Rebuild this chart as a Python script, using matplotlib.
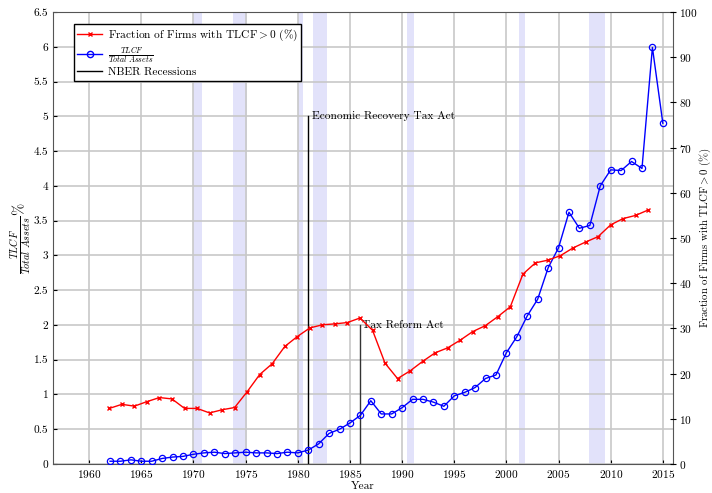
import numpy as np
import matplotlib
matplotlib.use("Agg")
import matplotlib.pyplot as plt

plt.rcParams['font.family'] = ['cmr10', 'DejaVu Serif']
plt.rcParams['mathtext.fontset'] = 'cm'
plt.rcParams['axes.formatter.use_mathtext'] = True
plt.rcParams['font.size'] = 8.2

# TLCF / total assets (%), annual
years = np.arange(1962, 2016)
tlcf = [0.04, 0.04, 0.06, 0.04, 0.04, 0.08, 0.10, 0.11, 0.14, 0.16,
        0.17, 0.15, 0.16, 0.17, 0.16, 0.16, 0.15, 0.17, 0.16, 0.20,
        0.29, 0.44, 0.50, 0.59, 0.70, 0.91, 0.72, 0.72, 0.81, 0.93,
        0.93, 0.89, 0.83, 0.98, 1.03, 1.10, 1.23, 1.28, 1.60, 1.83,
        2.13, 2.37, 2.82, 3.11, 3.62, 3.39, 3.43, 4.00, 4.23, 4.22,
        4.35, 4.25, 5.99, 4.90]

# fraction of firms with TLCF>0 (%), plotted on its own x axis
frac_years = np.arange(1962, 2006)
frac = [12.3, 13.2, 12.8, 13.8, 14.7, 14.4, 12.3, 12.3, 11.3, 12.0,
        12.5, 16.0, 19.8, 22.2, 26.0, 28.2, 30.1, 30.8, 31.0, 31.3,
        32.3, 29.6, 22.3, 18.9, 20.6, 22.7, 24.6, 25.7, 27.4, 29.3,
        30.6, 32.6, 34.8, 42.0, 44.5, 45.1, 46.1, 47.8, 49.1, 50.3,
        52.9, 54.3, 55.0, 56.2]

rec_start = [1969.92, 1973.83, 1980.0, 1981.5, 1990.5, 2001.17, 2007.92]
rec_end = [1970.83, 1975.17, 1980.5, 1982.83, 1991.17, 2001.83, 2009.5]

fig = plt.figure(figsize=(7.12, 4.93), dpi=100)
pos = [0.074, 0.0588, 0.8716, 0.9169]
ax = fig.add_axes(pos)

for s, e in zip(rec_start, rec_end):
    ax.axvspan(s, e, color='#e2e2fa', lw=0, zorder=0)

ax.plot([1981, 1981], [0, 5], color='black', lw=1)
ax.plot([1986, 1986], [0, 2], color='#333333', lw=1)
ax.text(1981.4, 5.0, 'Economic Recovery Tax Act', va='center', ha='left')
ax.text(1986.2, 2.0, 'Tax Reform Act', va='center', ha='left')

ax.plot(years, tlcf, color='blue', marker='o', ms=4.5, mfc='none', mew=0.9, lw=1, zorder=3)

ax.set_xlim(1956.5, 2016.0)
ax.set_ylim(0, 6.5)
ax.set_xticks(np.arange(1960, 2016, 5))
ax.set_yticks(np.arange(0, 6.51, 0.5))
ax.set_yticklabels(['0', '0.5', '1', '1.5', '2', '2.5', '3', '3.5', '4', '4.5', '5', '5.5', '6', '6.5'])
ax.grid(True, color='#c8c8c8', lw=1.2)
ax.set_axisbelow(True)
ax.tick_params(direction='in', length=3, right=False, top=False, pad=3)
ax.set_xlabel('Year', labelpad=1)
ax.set_ylabel(r'$\frac{TLCF}{Total\ Assets}\%$', labelpad=1, fontsize=10.5)
for sp in ax.spines.values():
    sp.set_color('#555555')

ax2 = fig.add_axes(pos, frameon=False)
ax2.plot(frac_years, frac, color='red', marker='x', ms=3.5, mew=1, lw=1)
ax2.set_xlim(1957.48, 2007.0)
ax2.set_ylim(0, 100)
ax2.set_yticks(np.arange(0, 101, 10))
ax2.xaxis.set_visible(False)
ax2.yaxis.tick_right()
ax2.yaxis.set_label_position('right')
ax2.tick_params(axis='y', direction='inout', length=4, pad=2)
ax2.set_ylabel(r'Fraction of Firms with TLCF$>$0 (%)', labelpad=0, fontsize=7.8)

h1, = ax.plot([], [], color='red', marker='x', ms=3.5, lw=1)
h2, = ax.plot([], [], color='blue', marker='o', ms=4.5, mfc='none', lw=1)
h3, = ax.plot([], [], color='black', lw=1)
leg = ax2.legend([h1, h2, h3],
                 [r'Fraction of Firms with TLCF$>$0 (%)', r'$\frac{TLCF}{Total\ Assets}$', 'NBER Recessions'],
                 loc='upper left', bbox_to_anchor=(0.025, 0.985), fancybox=False,
                 edgecolor='black', framealpha=1, handlelength=2.2,
                 borderpad=0.3, labelspacing=0.2, handletextpad=0.5)
leg.get_frame().set_linewidth(1)

fig.savefig('out.png', dpi=100)
